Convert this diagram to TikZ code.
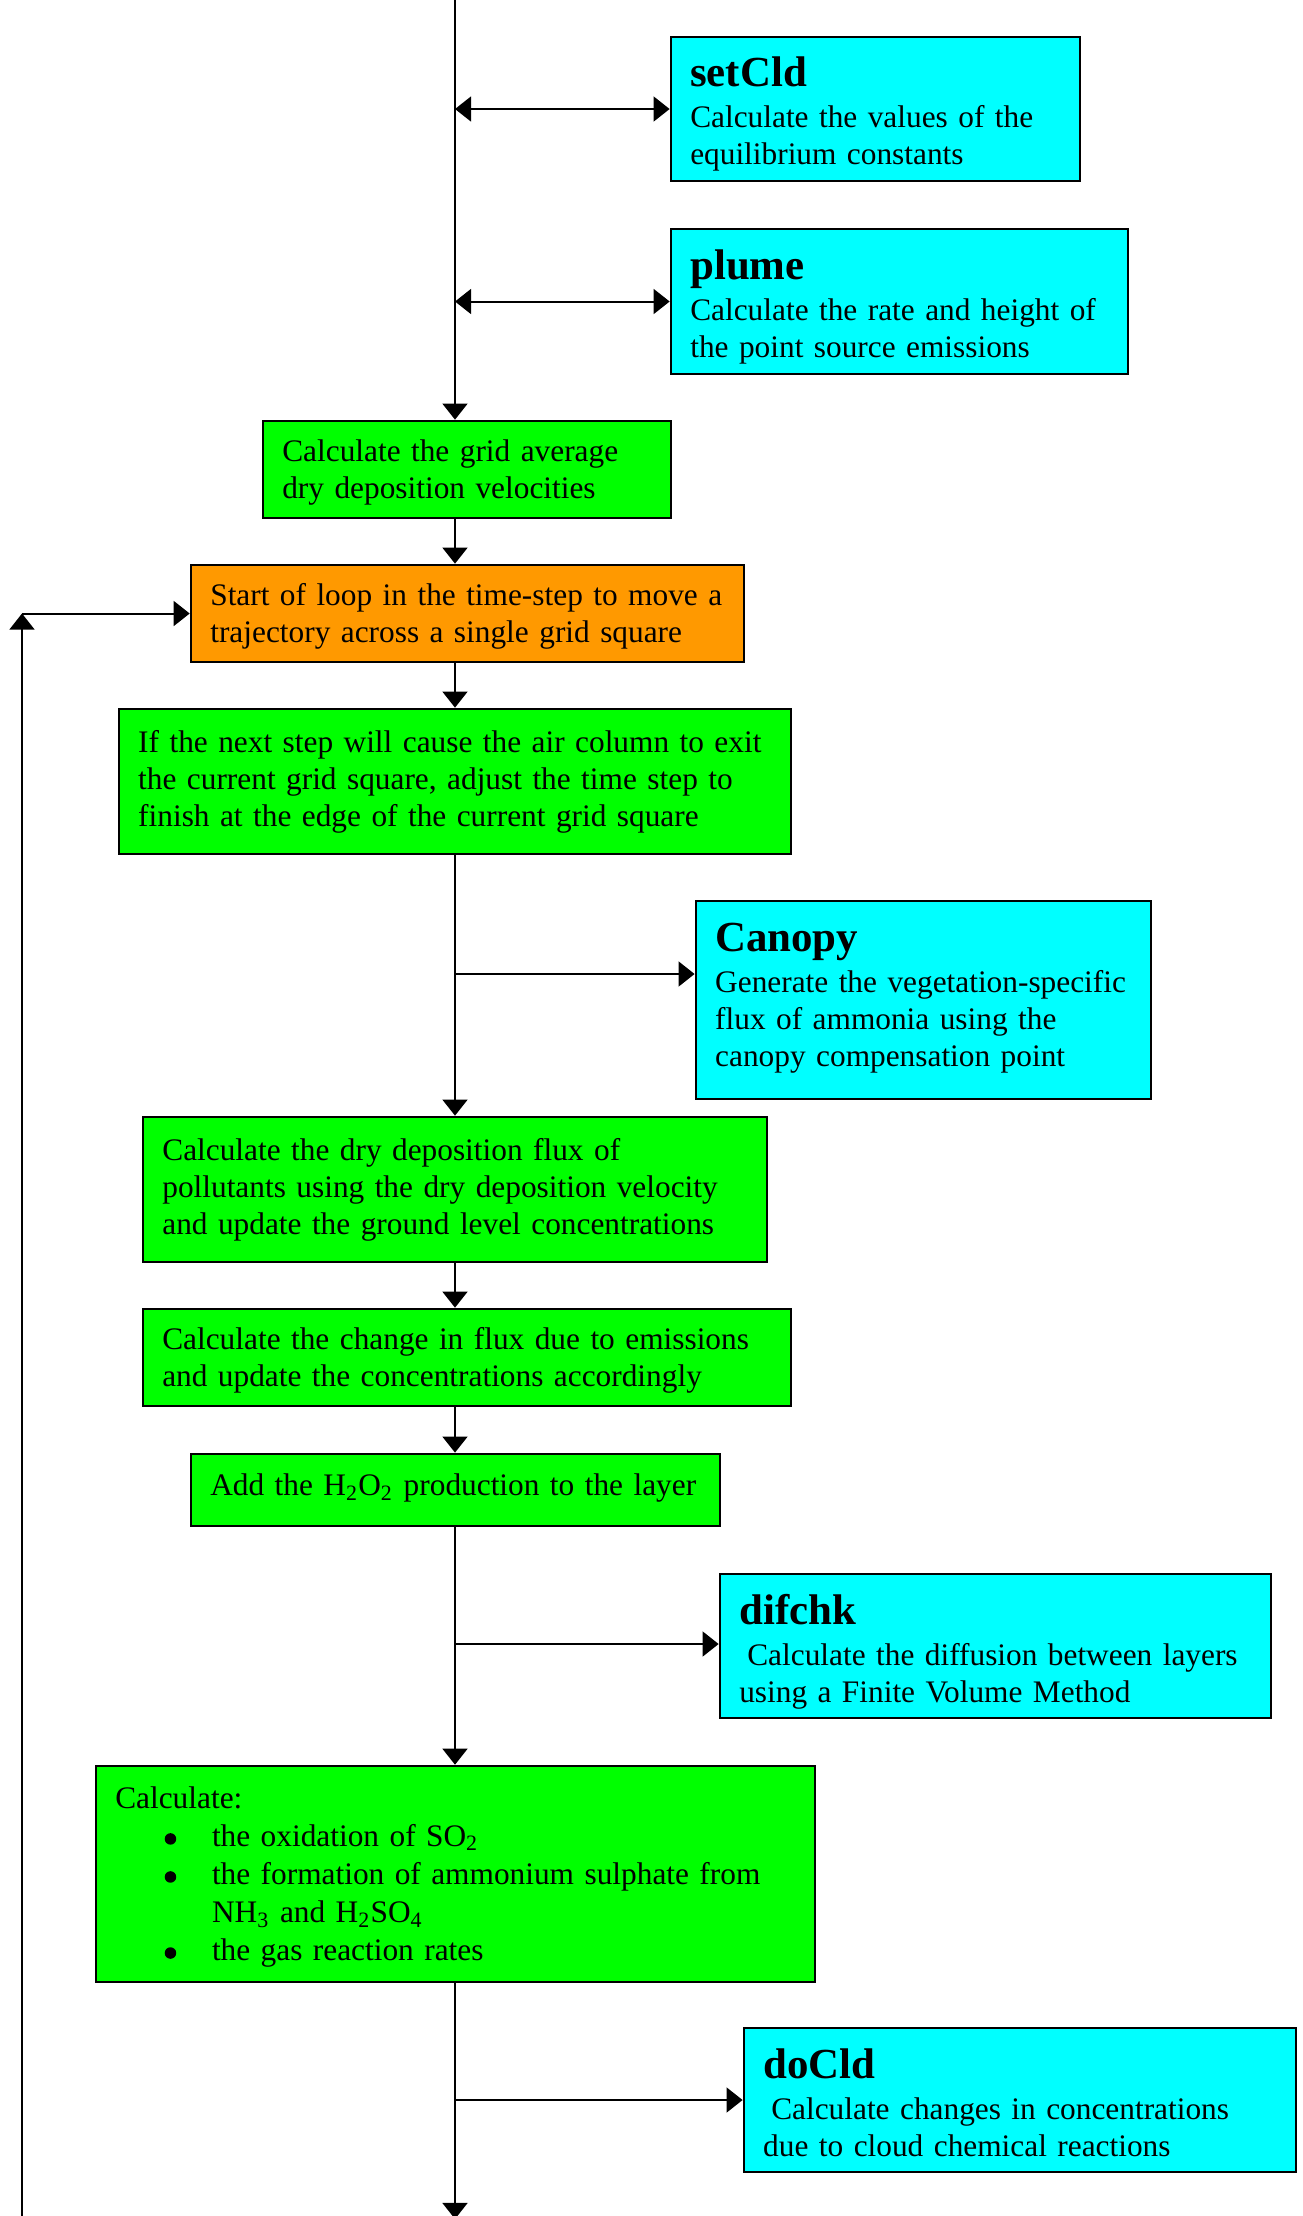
\documentclass[tikz,border=0pt]{standalone}
\usepackage{fontspec}
\setmainfont{Liberation Serif}
\usetikzlibrary{arrows.meta}
\setlength\parindent{0pt}
\definecolor{boxcyan}{HTML}{00FFFF}
\definecolor{boxgreen}{HTML}{00FF00}
\definecolor{boxorange}{HTML}{FF9900}
\newcommand\hd[1]{{\fontsize{16}{18}\selectfont\bfseries #1\par}\vspace{1.5pt}}
\newcommand\nodetail[1]{\par\vspace*{#1}}
\newcommand\bdot{\tikz[baseline=0pt]\fill (2.15pt,2.7pt) circle[radius=2.15pt];}
\newcommand\bul{\hspace*{18.45pt}\makebox[17.65pt][l]{\bdot}}
\begin{document}
\begin{tikzpicture}[x=0.3733pt, y=-0.3733pt,
  box/.style={draw, line width=1pt, align=left, inner xsep=7.2pt, inner ysep=2pt,
    font=\fontsize{11.7}{13.8}\selectfont},
  sub/.style={box, fill=boxcyan, execute at end node={\nodetail{#1}}},
  sub/.default=-4pt,
  calc/.style={box, fill=boxgreen, execute at end node={\nodetail{#1}}},
  calc/.default=-2pt,
  loopbox/.style={box, fill=boxorange, execute at end node={\nodetail{-2pt}}},
  conn/.style={line width=0.75pt, -{Triangle[width=9.3pt,length=6pt]}},
  dconn/.style={line width=0.75pt, {Triangle[width=9.3pt,length=6pt]}-{Triangle[width=9.3pt,length=6pt]}}]
\path[use as bounding box, fill=white] (0,0) rectangle (1303,2216);

\node[sub, text width=138.3pt, minimum height=53.76pt] (setcld) at (875.5,109)
  {\hd{setCld}Calculate the values of the\\ equilibrium constants};
\node[sub, text width=156.2pt, minimum height=54.13pt] (plume) at (899.5,301.5)
  {\hd{plume}Calculate the rate and height of\\ the point source emissions};
\node[calc, text width=137.9pt, minimum height=36.2pt] (grid) at (467,469.5)
  {Calculate the grid average\\ dry deposition velocities};
\node[loopbox, text width=192.0pt, minimum height=36.2pt] (start) at (467.5,613.5)
  {Start of loop in the time-step to move a\\ trajectory across a single grid square};
\node[calc=0pt, text width=236.5pt, minimum height=54.13pt] (next) at (455,781.5)
  {If the next step will cause the air column to exit\\ the current grid square, adjust the time step to\\ finish at the edge of the current grid square};
\node[sub=1.2pt, text width=155.5pt, minimum height=73.9pt] (canopy) at (923.5,1000)
  {\hd{Canopy}Generate the vegetation-specific\\ flux of ammonia using the\\ canopy compensation point};
\node[calc=0pt, text width=218.5pt, minimum height=54.13pt] (dry) at (455,1189.5)
  {Calculate the dry deposition flux of\\ pollutants using the dry deposition velocity\\ and update the ground level concentrations};
\node[calc, text width=227.5pt, minimum height=36.2pt] (emis) at (467,1357.5)
  {Calculate the change in flux due to emissions\\ and update the concentrations accordingly};
\node[calc=1.2pt, text width=183.1pt, minimum height=26.9pt] (hoo) at (455.5,1490)
  {Add the H\textsubscript{2}O\textsubscript{2} production to the layer};
\node[sub, text width=191.3pt, minimum height=53.76pt] (difchk) at (995.5,1646)
  {\hd{difchk}\hspace*{3pt}Calculate the diffusion between layers\\ using a Finite Volume Method};
\node[calc, text width=254.0pt, minimum height=80.6pt,
  font=\fontsize{11.7}{14.2}\selectfont] (chem) at (455.5,1874)
  {Calculate:\\
   \bul the oxidation of SO\textsubscript{2}\\
   \bul the formation of ammonium sulphate from\\
   \hspace*{36.1pt}NH\textsubscript{3} and H\textsubscript{2}SO\textsubscript{4}\\
   \bul the gas reaction rates};
\node[sub=-2pt, text width=191.7pt, minimum height=53.76pt] (docld) at (1020,2100)
  {\hd{doCld}\hspace*{3pt}Calculate changes in concentrations\\ due to cloud chemical reactions};

\coordinate (top) at (455,0);
\coordinate (bot) at (455,2219);
\coordinate (c1) at (455,974);
\coordinate (c2) at (455,1644);
\coordinate (c3) at (455,2100);
\coordinate (lb) at (22,2230);
\coordinate (lc) at (start.west -| lb);

\draw[conn] (top) -- (top |- grid.north);
\draw[dconn] (setcld.west -| top) -- (setcld.west);
\draw[dconn] (plume.west -| top) -- (plume.west);
\draw[conn] (top |- grid.south) -- (top |- start.north);
\draw[conn] (top |- start.south) -- (top |- next.north);
\draw[conn] (top |- next.south) -- (top |- dry.north);
\draw[conn] (c1) -- (c1 -| canopy.west);
\draw[conn] (top |- dry.south) -- (top |- emis.north);
\draw[conn] (top |- emis.south) -- (top |- hoo.north);
\draw[conn] (top |- hoo.south) -- (top |- chem.north);
\draw[conn] (c2) -- (c2 -| difchk.west);
\draw[conn] (top |- chem.south) -- (bot);
\draw[conn] (c3) -- (c3 -| docld.west);
\draw[conn] (lb) -- (lc);
\draw[conn] (lc) -- (start.west);
\end{tikzpicture}
\end{document}
